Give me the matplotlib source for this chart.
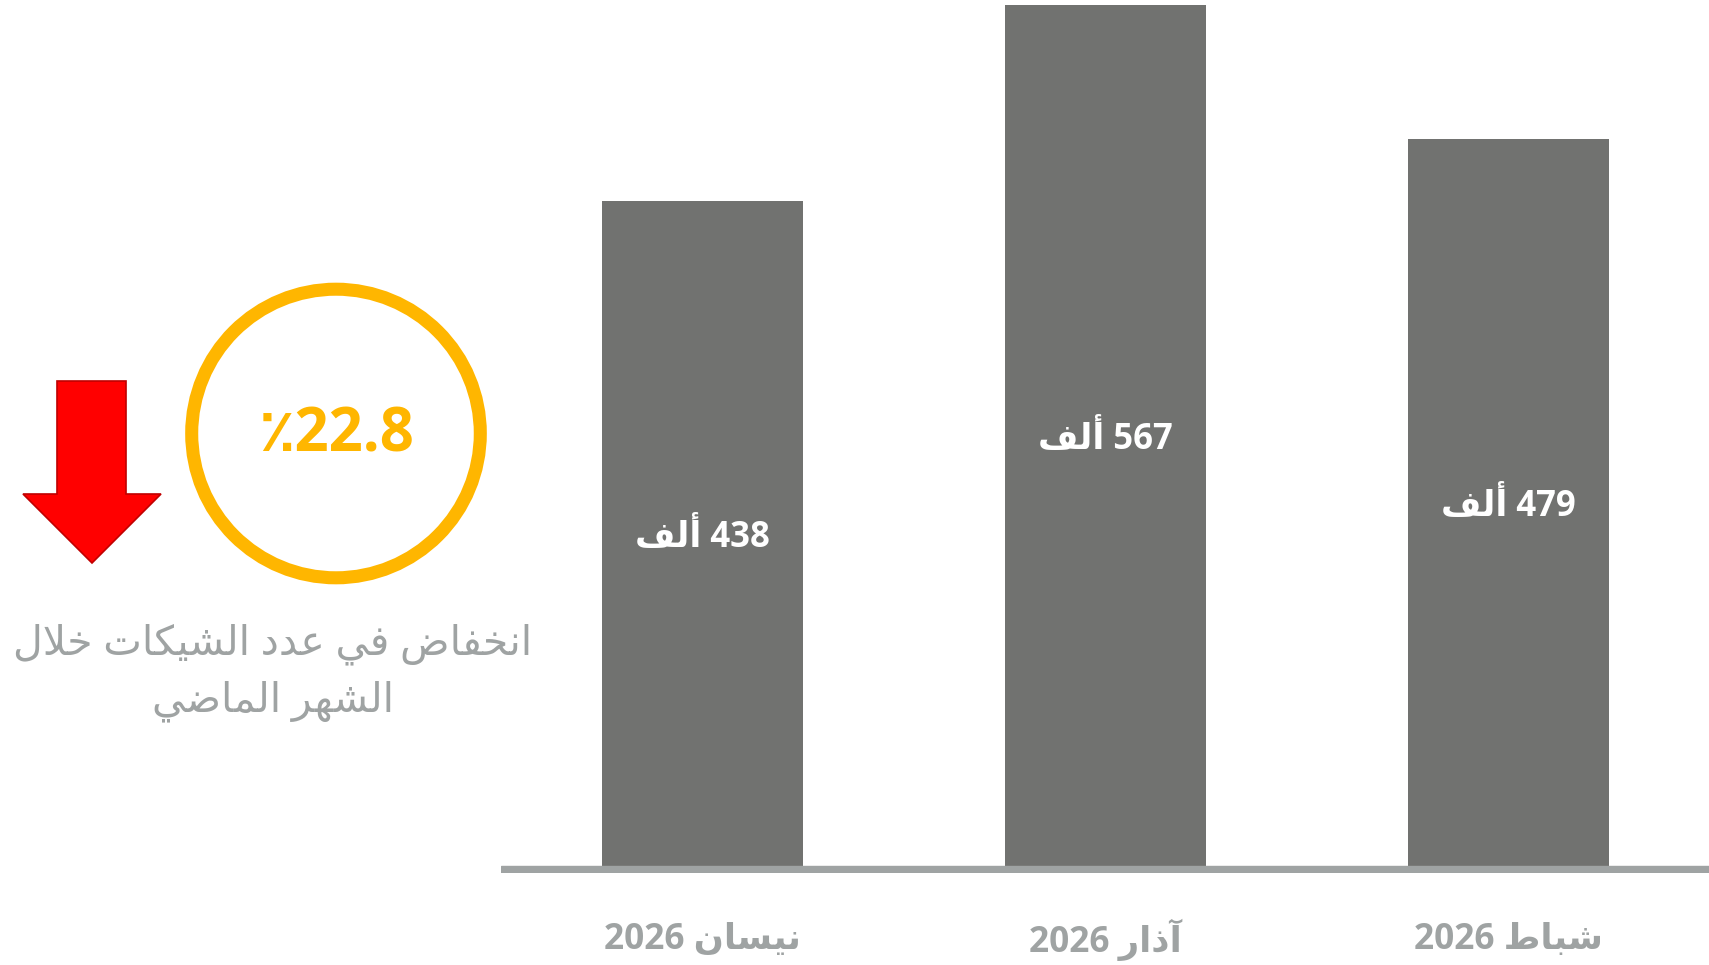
import matplotlib
matplotlib.use("Agg")
import matplotlib.pyplot as plt
from matplotlib.patches import Circle, Polygon
from matplotlib.transforms import offset_copy

# ---------------------------
# DATA
# ---------------------------
MONTHS = ["شباط 2026", "آذار 2026", "نيسان 2026"]   # chronological
CHEQUES_K = [479, 567, 438]                          # number of cheques, thousands
UNIT = "ألف"
CAPTION = ["انخفاض في عدد الشيكات خلال", "الشهر الماضي"]

BAR_COLOR = "#717270"
AXIS_GRAY = "#9fa3a3"
ORANGE = "#ffb600"

# ---------------------------
# ARABIC SHAPING (matplotlib draws glyphs left to right, no joining)
# ---------------------------
# isolated, final, initial, medial
FORMS = {
    "ا": (0xFE8D, 0xFE8E, None, None),
    "آ": (0xFE81, 0xFE82, None, None),
    "أ": (0xFE83, 0xFE84, None, None),
    "ب": (0xFE8F, 0xFE90, 0xFE91, 0xFE92),
    "ت": (0xFE95, 0xFE96, 0xFE97, 0xFE98),
    "خ": (0xFEA5, 0xFEA6, 0xFEA7, 0xFEA8),
    "د": (0xFEA9, 0xFEAA, None, None),
    "ذ": (0xFEAB, 0xFEAC, None, None),
    "ر": (0xFEAD, 0xFEAE, None, None),
    "س": (0xFEB1, 0xFEB2, 0xFEB3, 0xFEB4),
    "ش": (0xFEB5, 0xFEB6, 0xFEB7, 0xFEB8),
    "ض": (0xFEBD, 0xFEBE, 0xFEBF, 0xFEC0),
    "ط": (0xFEC1, 0xFEC2, 0xFEC3, 0xFEC4),
    "ع": (0xFEC9, 0xFECA, 0xFECB, 0xFECC),
    "ف": (0xFED1, 0xFED2, 0xFED3, 0xFED4),
    "ك": (0xFED9, 0xFEDA, 0xFEDB, 0xFEDC),
    "ل": (0xFEDD, 0xFEDE, 0xFEDF, 0xFEE0),
    "م": (0xFEE1, 0xFEE2, 0xFEE3, 0xFEE4),
    "ن": (0xFEE5, 0xFEE6, 0xFEE7, 0xFEE8),
    "ه": (0xFEE9, 0xFEEA, 0xFEEB, 0xFEEC),
    "ي": (0xFEF1, 0xFEF2, 0xFEF3, 0xFEF4),
}
LAM_ALEF = {"ا": (0xFEFB, 0xFEFC), "أ": (0xFEF7, 0xFEF8), "آ": (0xFEF5, 0xFEF6)}


def shape_word(word):
    letters = []
    i = 0
    while i < len(word):
        if word[i] == "ل" and i + 1 < len(word) and word[i + 1] in LAM_ALEF:
            letters.append(("LA", word[i + 1]))
            i += 2
        else:
            letters.append(word[i])
            i += 1

    def joins_next(ch):
        return isinstance(ch, str) and ch in FORMS and FORMS[ch][2] is not None

    def is_arabic(ch):
        return isinstance(ch, tuple) or ch in FORMS

    out = []
    for k, ch in enumerate(letters):
        prev = letters[k - 1] if k > 0 else None
        nxt = letters[k + 1] if k + 1 < len(letters) else None
        left = prev is not None and joins_next(prev)
        if isinstance(ch, tuple):
            out.append(chr(LAM_ALEF[ch[1]][1 if left else 0]))
            continue
        if ch not in FORMS:
            out.append(ch)
            continue
        right = joins_next(ch) and nxt is not None and is_arabic(nxt)
        iso, fin, ini, med = FORMS[ch]
        if left and right:
            code = med
        elif left:
            code = fin
        elif right:
            code = ini
        else:
            code = iso
        out.append(chr(code))
    return "".join(reversed(out))


def rtl(text):
    words = text.split(" ")
    shaped = [w if w[0].isdigit() else shape_word(w) for w in words]
    return " ".join(reversed(shaped))


# ---------------------------
# PLOT
# ---------------------------
W, H = 1709, 965
fig = plt.figure(figsize=(W / 100, H / 100), dpi=100)
fig.patch.set_facecolor("white")

FONT = ["Open Sans", "DejaVu Sans"]

# bar axes: baseline at y=866 px, top at the figure top
ax = fig.add_axes([501 / W, (H - 873) / H, 1 - 501 / W, 873 / H])
x = list(range(len(MONTHS)))
ax.bar(x, CHEQUES_K, width=0.5, color=BAR_COLOR, zorder=2)
ax.axhspan(-4.6, 0, color=AXIS_GRAY, zorder=3)
ax.set_xlim(2.5, -0.4975)      # right-to-left: oldest month on the right
ax.set_ylim(-4.6, 570.5)
ax.axis("off")

value_tf = offset_copy(ax.transData, fig=fig, y=-3, units="points")
for xi, v in zip(x, CHEQUES_K):
    ax.text(xi, v / 2, rtl(f"{v} {UNIT}"), transform=value_tf,
            ha="center", va="center", color="white", fontsize=25,
            fontweight="bold", family=FONT)

for xi, m in zip(x, MONTHS):
    ax.text(xi, -0.077, rtl(m), transform=ax.get_xaxis_transform(),
            ha="center", va="center", color=AXIS_GRAY, fontsize=25.5,
            fontweight="bold", family=FONT)

# overlay in pixel coordinates for the change badge
ov = fig.add_axes([0, 0, 1, 1])
ov.set_xlim(0, W)
ov.set_ylim(H, 0)
ov.axis("off")

ov.add_patch(Circle((336, 433.5), 144.3, fill=False, edgecolor=ORANGE, linewidth=9.4))

change = abs(CHEQUES_K[-1] - CHEQUES_K[-2]) / CHEQUES_K[-2] * 100
ov.text(336, 436, f"٪{change:.1f}", ha="center", va="center", color=ORANGE,
        fontsize=43, fontweight="bold", family=FONT)

# down arrow
arrow = [(57, 381), (126, 381), (126, 494), (161, 494), (92, 563),
         (23, 494), (57, 494)]
ov.add_patch(Polygon(arrow, closed=True, facecolor="#ff0000",
                     edgecolor="#c00000", linewidth=1.2))

ov.text(273, 644, rtl(CAPTION[0]), ha="center", va="center",
        color=AXIS_GRAY, fontsize=29.5, family=FONT)
ov.text(273, 701, rtl(CAPTION[1]), ha="center", va="center",
        color=AXIS_GRAY, fontsize=29.5, family=FONT)

plt.savefig("out.png", dpi=100, facecolor="white")
plt.close()
